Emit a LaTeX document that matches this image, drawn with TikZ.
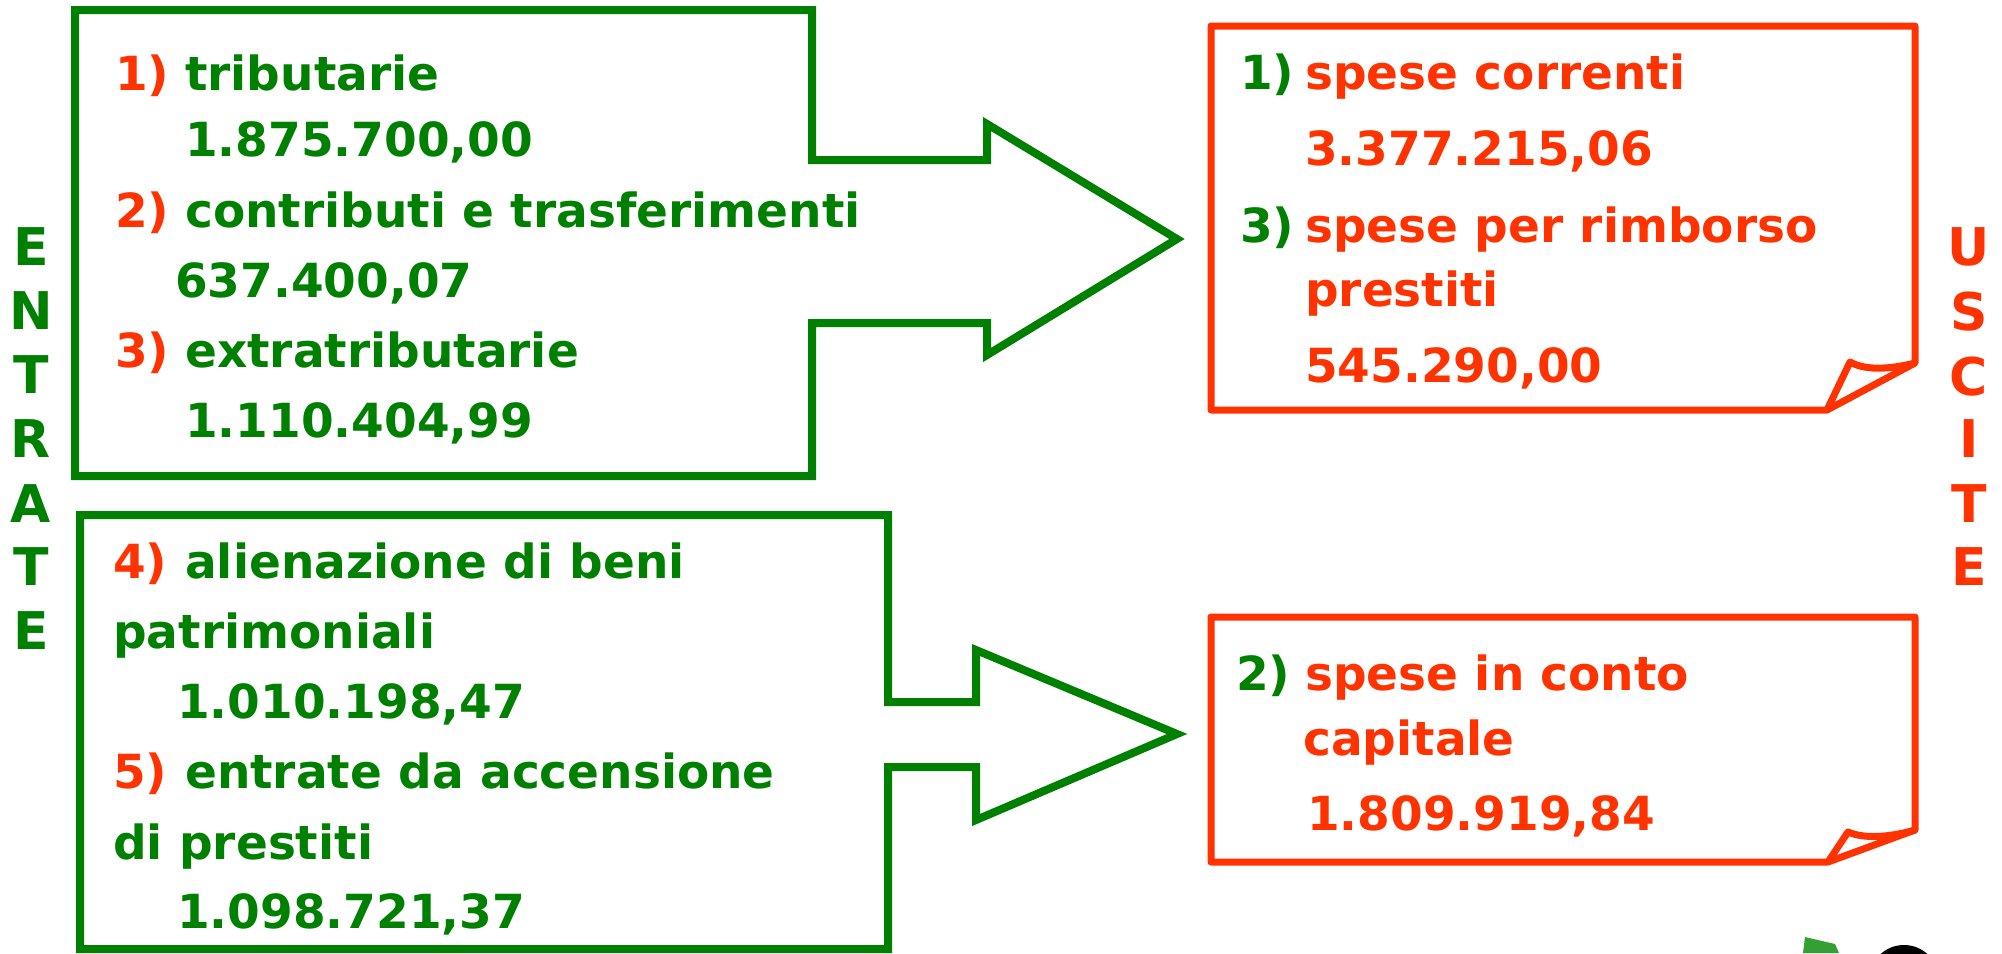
\documentclass[tikz,border=0pt]{standalone}
\usepackage{fontspec}
\setmainfont{DejaVu Sans}
\definecolor{gr}{RGB}{0,128,0}
\definecolor{rd}{RGB}{255,51,0}
\definecolor{lgr}{RGB}{50,160,50}
\begin{document}
\begin{tikzpicture}[x=1pt,y=-1pt,
  txt/.style={anchor=base west, inner sep=0pt, font=\fontsize{47}{56}\selectfont\bfseries},
  gtxt/.style={txt, text=gr},
  rtxt/.style={txt, text=rd},
  vl/.style={anchor=base, inner sep=0pt, font=\fontsize{52}{60}\selectfont\bfseries},
  gshape/.style={draw=gr, line width=8pt},
  rshape/.style={draw=rd, line width=7pt, line join=round}]
\useasboundingbox (0,0) rectangle (2002,953);
\clip (0,0) rectangle (2002,953);

% green arrow shapes
\draw[gshape] (75,10) -- (812,10) -- (812,160) -- (987,160) -- (987,124) -- (1177,239)
  -- (987,355) -- (987,323) -- (812,323) -- (812,476) -- (75,476) -- cycle;
\draw[gshape] (80,515) -- (888,515) -- (888,702) -- (976,702) -- (976,650) -- (1177,734)
  -- (976,820) -- (976,767) -- (888,767) -- (888,949) -- (80,949) -- cycle;

% red note boxes
\draw[rshape] (1211,26) -- (1915,26) -- (1915,363) -- (1827,410) -- (1211,410) -- cycle;
\draw[rshape] (1827,410) -- (1850,362) .. controls (1868,372) and (1895,368) .. (1915,363);
\draw[rshape] (1211,617) -- (1915,617) -- (1915,830) -- (1828,862) -- (1211,862) -- cycle;
\draw[rshape] (1828,862) -- (1848,832) .. controls (1866,840) and (1895,836) .. (1915,830);

% top green box text
\node[rtxt] (n1) at (115,90) {1)};
\node[gtxt] (t1) at (185,90) {tributarie};
\node[gtxt] (v1) at (185,156) {1.875.700,00};
\node[rtxt] (n2) at (115,227) {2)};
\node[gtxt] (t2) at (185,227) {contributi e trasferimenti};
\node[gtxt] (v2) at (175,297) {637.400,07};
\node[rtxt] (n3) at (115,367) {3)};
\node[gtxt] (t3) at (185,367) {extratributarie};
\node[gtxt] (v3) at (185,437) {1.110.404,99};

% bottom green box text
\node[rtxt] (n4) at (113,578) {4)};
\node[gtxt] (t4) at (185,578) {alienazione di beni};
\node[gtxt] (t4b) at (113,648) {patrimoniali};
\node[gtxt] (v4) at (177,718) {1.010.198,47};
\node[rtxt] (n5) at (113,788) {5)};
\node[gtxt] (t5) at (185,788) {entrate da accensione};
\node[gtxt] (t5b) at (113,859) {di prestiti};
\node[gtxt] (v5) at (177,928) {1.098.721,37};

% top red box text
\node[gtxt] (m1) at (1240,89) {1)};
\node[rtxt] (s1) at (1305,89) {spese correnti};
\node[rtxt] (w1) at (1305,165) {3.377.215,06};
\node[gtxt] (m3) at (1240,242) {3)};
\node[rtxt] (s3) at (1305,242) {spese per rimborso};
\node[rtxt] (s3b) at (1305,306) {prestiti};
\node[rtxt] (w3) at (1305,382) {545.290,00};

% bottom red box text
\node[gtxt] (m2) at (1236,690) {2)};
\node[rtxt] (s2) at (1305,690) {spese in conto};
\node[rtxt] (s2b) at (1303,755) {capitale};
\node[rtxt] (w2) at (1307,830) {1.809.919,84};

% vertical labels
\foreach \l/\yy [count=\i] in {E/265,N/329,T/393,R/457,A/522,T/585,E/649}
  \node[vl, text=gr] (en\i) at (31,\yy) {\l};
\foreach \l/\yy [count=\i] in {U/265,S/330,C/395,I/457,T/522,E/585}
  \node[vl, text=rd] (us\i) at (1969,\yy) {\l};

% clipped clipart fragments at bottom right
\fill[lgr] (1805,937) -- (1835,944) -- (1839,953) -- (1803,953) -- cycle;
\fill[black] (1904,980) circle (35);
\end{tikzpicture}
\end{document}
